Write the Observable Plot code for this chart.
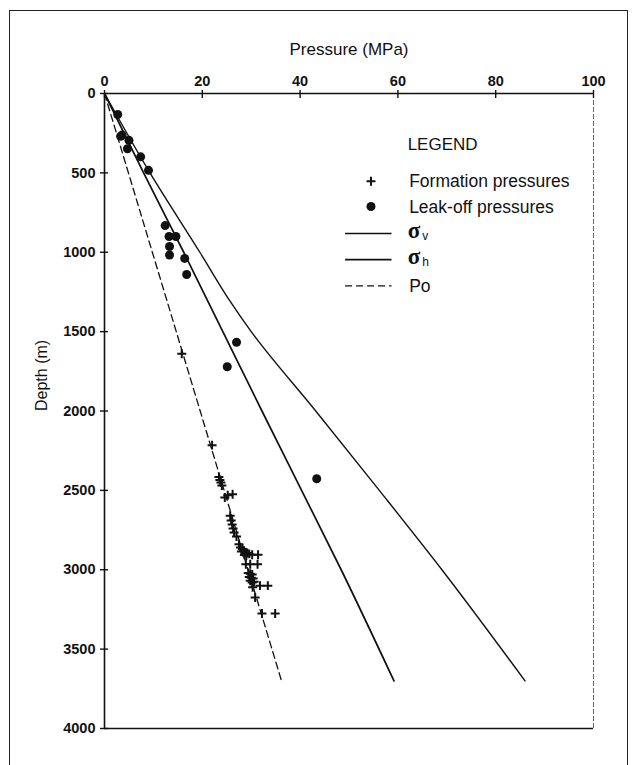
<!DOCTYPE html>
<html><head><meta charset="utf-8">
<script src="https://cdn.jsdelivr.net/npm/d3@7"></script>
<script src="https://cdn.jsdelivr.net/npm/@observablehq/plot@0.6"></script>
<style>
html,body{margin:0;padding:0;background:#fff;}
#wrap{position:relative;width:638px;height:765px;overflow:hidden;font-family:"Liberation Sans",Arial,sans-serif;}
#frame{position:absolute;left:9px;top:10px;width:617px;height:800px;border:1.5px solid #222;border-bottom:none;}
#chart{position:absolute;left:0;top:0;}
</style></head><body>
<div id="wrap"><div id="frame"></div><div id="chart"></div></div>
<script>
// ---- data ----
const xTicks = [0, 20, 40, 60, 80, 100];
const yTicks = [0, 500, 1000, 1500, 2000, 2500, 3000, 3500, 4000];

const sigmaVDepth = [0, 500, 1000, 1300, 1500, 2000, 2500, 3000, 3700];
const sigmaV      = [0, 9.3, 19.5, 25.5, 30, 43.2, 56.2, 69, 86];

const sigmaHDepth = [0, 500, 1000, 1500, 2000, 2500, 3000, 3700];
const sigmaH      = [0, 8, 16.2, 24.2, 32.2, 40.3, 48.4, 59.2];

const poDepth = [0, 3700];
const po      = [0, 36.2];

const leakP = [2.7, 3.3, 3.6, 5.0, 4.7, 7.4, 9.0, 12.4, 13.2, 14.6, 13.3, 13.3, 16.4, 16.8, 27.0, 25.1, 43.4];
const leakD = [132, 270, 262, 295, 348, 399, 484, 832, 901, 901, 964, 1017, 1039, 1140, 1567, 1721, 2427];

const formP = [15.8, 22.0, 23.4, 23.6, 23.8, 24.0, 24.6, 25.2, 26.2,
  25.7, 25.9, 26.1, 26.3, 26.5, 27.0,
  27.5, 27.8, 28.2, 28.5, 28.8, 29.2, 29.6, 28.0, 28.6, 29.0, 30.2, 31.4,
  28.9, 29.8, 31.3,
  29.4, 29.8, 30.2, 29.6, 30.0, 30.4, 29.8, 30.2, 30.6,
  31.8, 33.4, 30.3, 30.8, 32.2, 34.9];
const formD = [1640, 2215, 2415, 2435, 2450, 2470, 2545, 2530, 2525,
  2660, 2690, 2715, 2740, 2765, 2790,
  2840, 2860, 2870, 2880, 2890, 2895, 2900, 2885, 2905, 2910, 2905, 2905,
  2965, 2965, 2965,
  3020, 3025, 3030, 3045, 3050, 3055, 3070, 3080, 3075,
  3100, 3100, 3110, 3175, 3275, 3275];

const legendTitle = "LEGEND";
const legendLabels = ["Formation pressures", "Leak-off pressures", "v", "h", "Po"];

// ---- tables ----
const toPts = (ps, ds) => ps.map((p, i) => ({p, d: ds[i]}));
const sv = toPts(sigmaV, sigmaVDepth);
const sh = toPts(sigmaH, sigmaHDepth);
const pp = toPts(po, poDepth);
const leak = toPts(leakP, leakD);
const form = toPts(formP, formD);

const ink = "#111";
const plot = Plot.plot({
  width: 638, height: 765,
  marginLeft: 104, marginRight: 45, marginTop: 93, marginBottom: 37,
  style: {fontFamily: "'Liberation Sans', Arial, sans-serif", fontSize: "14px", color: ink, background: "transparent"},
  x: {domain: [0, 100]},
  y: {domain: [0, 4000], reverse: true},
  marks: [
    Plot.ruleX([100], {stroke: "#666", strokeWidth: 1, strokeDasharray: "5,2"}),
    Plot.ruleY([4000], {stroke: ink, strokeWidth: 1.6}),
    Plot.ruleX([0], {stroke: ink, strokeWidth: 1.6}),
    Plot.ruleY([0], {stroke: ink, strokeWidth: 1.6}),
    Plot.axisX(xTicks, {anchor: "top", tickSize: 4, tickPadding: 4, fontWeight: "bold", fontSize: 14.5, label: null, strokeWidth: 1.4}),
    Plot.axisX(xTicks, {anchor: "top", tickSize: -4, tickFormat: () => "", label: null, strokeWidth: 1.4}),
    Plot.axisY(yTicks, {anchor: "left", tickSize: 4, tickPadding: 5, tickFormat: d => String(d), fontWeight: "bold", fontSize: 14.5, label: null, strokeWidth: 1.4}),
    Plot.axisY(yTicks, {anchor: "left", tickSize: -4, tickFormat: () => "", label: null, strokeWidth: 1.4}),
    Plot.text(["Pressure (MPa)"], {frameAnchor: "top", lineAnchor: "middle", dy: -44, fontSize: 17, fill: ink}),
    Plot.text(["Depth (m)"], {frameAnchor: "left", dx: -63, rotate: -90, fontSize: 16, fill: ink}),
    Plot.line(pp, {x: "p", y: "d", stroke: ink, strokeWidth: 1.3, strokeDasharray: "7,4"}),
    Plot.line(sh, {x: "p", y: "d", stroke: ink, strokeWidth: 1.7, curve: "monotone-y"}),
    Plot.line(sv, {x: "p", y: "d", stroke: ink, strokeWidth: 1.4, curve: "monotone-y"}),
    Plot.dot(leak, {x: "p", y: "d", r: 4.5, fill: ink, stroke: null}),
    Plot.dot(form, {x: "p", y: "d", symbol: "plus", r: 3, stroke: ink, strokeWidth: 2, fill: "none"})
  ]
});
document.getElementById("chart").appendChild(plot);

// ---- legend, placed through the chart scales ----
const sx = plot.scale("x"), sy = plot.scale("y");
const X = v => sx.apply(v), Y = v => sy.apply(v);
const g = d3.select(plot).append("g")
  .attr("font-family", "'Liberation Sans', Arial, sans-serif")
  .attr("fill", ink).attr("text-anchor", "start");
g.append("text").attr("x", X(62.1)).attr("y", Y(320)).attr("dy", "0.35em").attr("font-size", 17).text(legendTitle);
const rows = [556, 715, 885, 1050, 1215];
const symX = X(54.6), txtX = X(62.4), l1 = X(49.3), l2 = X(58.8);
g.append("path").attr("d", d3.symbol(d3.symbolPlus, 28)())
  .attr("transform", `translate(${symX},${Y(rows[0])})`).attr("fill", "none").attr("stroke", ink).attr("stroke-width", 2);
g.append("circle").attr("cx", symX).attr("cy", Y(rows[1])).attr("r", 4.5);
g.append("text").attr("x", txtX).attr("y", Y(rows[0])).attr("dy", "0.35em").attr("font-size", 17.5).text(legendLabels[0]);
g.append("text").attr("x", txtX).attr("y", Y(rows[1])).attr("dy", "0.35em").attr("font-size", 17.5).text(legendLabels[1]);
[2, 3].forEach(i => {
  g.append("line").attr("x1", l1).attr("x2", l2).attr("y1", Y(rows[i])).attr("y2", Y(rows[i]))
    .attr("stroke", ink).attr("stroke-width", i === 3 ? 1.7 : 1.3);
  const t = g.append("text").attr("x", X(62.1)).attr("y", Y(rows[i])).attr("dy", "0.32em");
  t.append("tspan").attr("font-family", "'Liberation Serif', serif").attr("font-size", 23).attr("font-weight", "bold").text("σ");
  t.append("tspan").attr("font-size", 12).attr("dx", 2).attr("dy", "0.15em").text(legendLabels[i]);
});
g.append("line").attr("x1", l1).attr("x2", l2).attr("y1", Y(rows[4])).attr("y2", Y(rows[4]))
  .attr("stroke", ink).attr("stroke-width", 1.3).attr("stroke-dasharray", "7,4");
g.append("text").attr("x", txtX).attr("y", Y(rows[4])).attr("dy", "0.35em").attr("font-size", 17.5).text(legendLabels[4]);
</script>
</body></html>
